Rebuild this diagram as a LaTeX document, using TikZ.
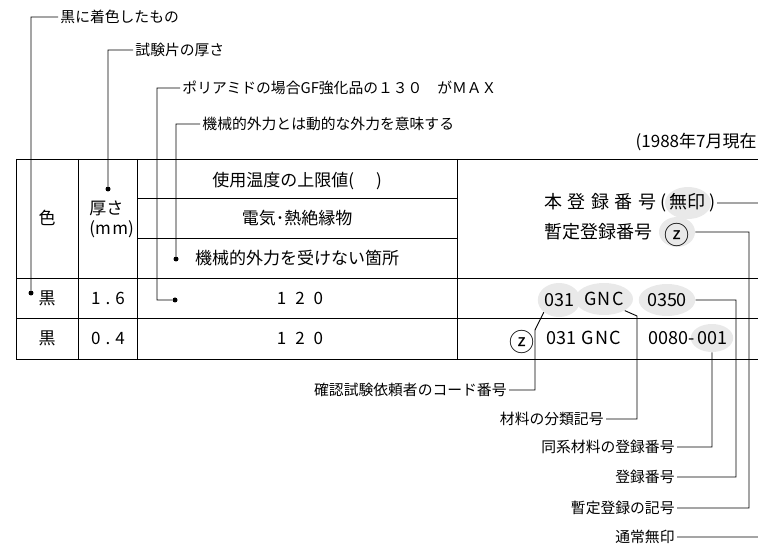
\documentclass[tikz,border=0pt]{standalone}
\usepackage{fontspec}
\setmainfont{Noto Sans CJK JP}
\usetikzlibrary{shapes.geometric}
\definecolor{markgray}{RGB}{233,233,233}
\newcommand{\gnc}{G\hspace{1.5pt}N\hspace{1.5pt}C}
\newcommand{\zmark}{{\fontsize{25}{25}\selectfont\raisebox{-0.52em}[0pt][0pt]{ⓩ}}}

\begin{document}
\begin{tikzpicture}[x=1pt,y=-1pt,line width=0.9pt,
  note node/.style={inner sep=2pt,font=\fontsize{14.8}{17}\selectfont},
  cell node/.style={inner sep=1pt,font=\fontsize{17}{20}\selectfont},
  code node/.style={inner sep=1pt,font=\fontsize{18}{21}\selectfont},
  mark node/.style={ellipse,fill=markgray,inner sep=0pt,font=\fontsize{18}{21}\selectfont},
  dot node/.style={circle,fill,inner sep=0pt,minimum size=5pt}]
            \useasboundingbox (0,0) rectangle (758,545);

            \foreach \y in {159,278,318,359} \draw (16,\y) -- (758,\y);
            \foreach \y in {198,238} \draw (137,\y) -- (457,\y);
            \foreach \x in {16,78,137,457} \draw (\x,159) -- (\x,359);

            \node[note node,anchor=west] (1) at (58,17) {黒に着色したもの};
            \node[note node,anchor=west] (2) at (133,50) {試験片の厚さ};
            \node[note node,anchor=west] (3) at (180,88) {ポリアミドの場合GF強化品の１３０　がＭＡＸ};
            \node[note node,anchor=west] (4) at (200,124) {機械的外力とは動的な外力を意味する};

            \node[dot node] (5) at (31,293) {};
            \node[dot node] (6) at (108,189) {};
            \node[dot node] (7) at (175,300) {};
            \node[dot node] (8) at (176,259) {};
            \coordinate (g) at (157,300);

            \node[cell node] (9) at (47,218) {色};
            \node[cell node,anchor=west,align=left] (10) at (88,219) {厚さ\\(m\hspace{1.5pt}m)};
            \node[cell node] (11) at (297,181) {使用温度の上限値(\hspace{22pt})};
            \node[cell node] (12) at (297,218) {電気･熱絶縁物};
            \node[cell node] (13) at (297,258) {機械的外力を受けない箇所};
            \node[cell node] (14) at (47,298) {黒};
            \node[cell node] (15) at (108,298) {1\hspace{5pt}.\hspace{5pt}6};
            \node[cell node] (16) at (300,298) {1\hspace{9pt}2\hspace{9pt}0};
            \node[cell node] (17) at (47,338) {黒};
            \node[cell node] (18) at (108,338) {0\hspace{5pt}.\hspace{5pt}4};
            \node[cell node] (19) at (300,338) {1\hspace{9pt}2\hspace{9pt}0};

            \node[cell node,anchor=east] (20) at (758,142) {(1988年7月現在};

            \node[mark node,minimum width=46,minimum height=32] (31) at (688,203) {};
            \node[code node,anchor=west] (21) at (543,203) {本\hspace{5.5pt}登\hspace{5.5pt}録\hspace{5.5pt}番\hspace{5.5pt}号\hspace{4pt}(\hspace{3pt}無印\hspace{4pt})};
            \node[code node,anchor=west] (22) at (543,232) {暫定登録番号};
            \node[mark node,minimum width=36,minimum height=30] (23) at (677,232) {\zmark};

            \node[mark node,minimum width=32,minimum height=34] (24) at (559,300) {031};
            \node[mark node,minimum width=58,minimum height=32] (25) at (604,299) {\gnc};
            \node[mark node,minimum width=42,minimum height=32] (26) at (667,300) {0350};

            \node[code node] (27) at (522,338) {\zmark};
            \node[code node,anchor=west] (28) at (545,338) {031\hspace{5pt}\gnc};
            \node[mark node,minimum width=36,minimum height=28] (30) at (712,338) {001};
            \node[code node,anchor=east,inner sep=0pt] (29) at (695,338) {0080-};

            \node[note node,anchor=east] (32) at (509,390) {確認試験依頼者のコード番号};
            \node[note node,anchor=east] (33) at (606,419) {材料の分類記号};
            \node[note node,anchor=east] (34) at (677,447) {同系材料の登録番号};
            \node[note node,anchor=east] (35) at (677,477) {登録番号};
            \node[note node,anchor=east] (36) at (677,508) {暫定登録の記号};
            \node[note node,anchor=east] (37) at (677,537) {通常無印};

            \coordinate (a) at (535,330);
            \coordinate (b) at (637,316);
            \coordinate (c) at (736,300);
            \coordinate (d) at (749,232);
            \coordinate (e) at (758,537);
            \coordinate (f) at (758,203);

            \path[draw]
                (1.west) -| (5)
                (2.west) -| (6)
                (3.west) -| (g) -- (7)
                (4.west) -| (8)

                (21.east) -- (f)
                (24.south west) -- (a) |- (32.east)
                (25.south east) -- (b) |- (33.east)
                (30.south) |- (34.east)
                (26.east) -- (c) |- (35.east)
                (23.east) -- (d) |- (36.east)
                (37.east) -- (e)
            ;
            \end{tikzpicture}
\end{document}
